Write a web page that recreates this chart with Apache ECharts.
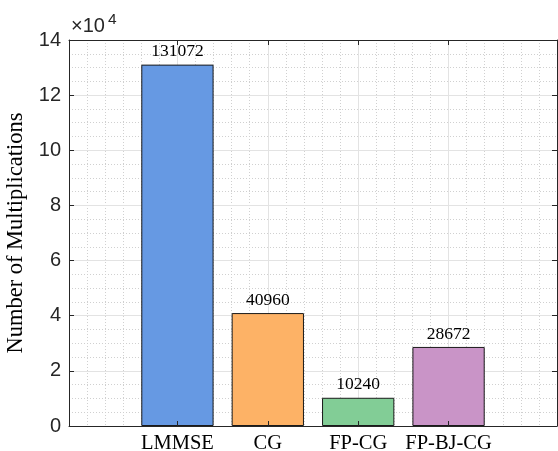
<!DOCTYPE html>
<html>
<head>
<meta charset="utf-8">
<script src="https://cdn.jsdelivr.net/npm/echarts@6/dist/echarts.min.js"></script>
<style>
  html, body { margin: 0; padding: 0; background: #fff; }
  #chart { width: 558px; height: 451px; }
</style>
</head>
<body>
<div id="chart"></div>
<script>
// ---- data ----
const categories = ['LMMSE', 'CG', 'FP-CG', 'FP-BJ-CG'];
const values = [131072, 40960, 10240, 28672];
const positions = [1, 2, 3, 4];
const yTickValues = [0, 2, 4, 6, 8, 10, 12, 14]; // ×10^4
const yExponent = '4';
const yTitle = 'Number of Multiplications';

// ---- axis config ----
const xMin = -0.2, xMax = 5.2, xMinorStep = 0.2;
const yScale = 10000;
const barColors = ['#6699E3', '#FDB266', '#82CD96', '#C994C7'];

const nSlots = Math.round((xMax - xMin) / xMinorStep) + 1;
const slotLabels = new Array(nSlots).fill('');
const majorSlots = positions.map(p => Math.round((p - xMin) / xMinorStep));
majorSlots.forEach((s, i) => { slotLabels[s] = categories[i]; });
const isMajor = (i) => majorSlots.indexOf(i) >= 0;
const barData = new Array(nSlots).fill('-');
majorSlots.forEach((s, i) => {
  barData[s] = { value: values[i], itemStyle: { color: barColors[i] } };
});

const AX = '#262626';
const SERIF = 'Liberation Serif';
const SANS = 'Liberation Sans';

const baseX = {
  type: 'category', data: slotLabels, boundaryGap: false, gridIndex: 0
};

const chart = echarts.init(document.getElementById('chart'), null, { renderer: 'canvas' });
chart.setOption({
  animation: false,
  backgroundColor: '#ffffff',
  grid: { left: 69, top: 40, width: 488, height: 386, containLabel: false, outerBoundsMode: 'none' },
  xAxis: [
    Object.assign({}, baseX, {
      position: 'bottom', z: 0,
      axisLine: { show: false }, axisTick: { show: false }, axisLabel: { show: false },
      splitLine: { show: true, interval: (i) => !isMajor(i) && i > 0 && i < nSlots - 1,
        lineStyle: { color: '#d0d0d0', width: 1, type: [1, 2] } }
    }),
    Object.assign({}, baseX, {
      position: 'bottom', z: 0,
      axisLine: { show: false }, axisTick: { show: false }, axisLabel: { show: false },
      splitLine: { show: true, interval: (i) => isMajor(i),
        lineStyle: { color: '#e3e3e3', width: 1, type: 'solid' } }
    }),
    Object.assign({}, baseX, {
      position: 'bottom', z: 5,
      axisLine: { show: true, lineStyle: { color: AX, width: 1 } },
      axisTick: { show: true, inside: true, length: 5, interval: (i) => isMajor(i), lineStyle: { color: AX } },
      axisLabel: { show: true, interval: (i) => isMajor(i), margin: 7,
        fontFamily: SERIF, fontSize: 20.5, color: '#000' },
      splitLine: { show: false }
    }),
    Object.assign({}, baseX, {
      position: 'top', z: 5,
      axisLine: { show: true, lineStyle: { color: AX, width: 1 } },
      axisTick: { show: true, inside: true, length: 5, interval: (i) => isMajor(i), lineStyle: { color: AX } },
      axisLabel: { show: false },
      splitLine: { show: false }
    })
  ],
  yAxis: [
    {
      type: 'value', position: 'left', min: yTickValues[0] * yScale,
      max: yTickValues[yTickValues.length - 1] * yScale,
      interval: (yTickValues[1] - yTickValues[0]) * yScale, z: 1,
      name: yTitle, nameLocation: 'middle', nameRotate: 90, nameGap: 37,
      nameTextStyle: { fontFamily: SERIF, fontSize: 22.5, color: '#000' },
      axisLine: { show: true, lineStyle: { color: AX, width: 1 } },
      axisTick: { show: true, inside: true, length: 5, lineStyle: { color: AX } },
      axisLabel: { formatter: (v) => String(v / yScale), margin: 8,
        fontFamily: SANS, fontSize: 20, color: AX },
      splitLine: { show: true, lineStyle: { color: '#e3e3e3', width: 1 } },
      minorTick: { show: false, splitNumber: 4 },
      minorSplitLine: { show: true, lineStyle: { color: '#d0d0d0', width: 1, type: [1, 2] } }
    },
    {
      type: 'value', position: 'right', min: yTickValues[0] * yScale,
      max: yTickValues[yTickValues.length - 1] * yScale,
      interval: (yTickValues[1] - yTickValues[0]) * yScale, z: 5,
      axisLine: { show: true, lineStyle: { color: AX, width: 1 } },
      axisTick: { show: true, inside: true, length: 5, lineStyle: { color: AX } },
      axisLabel: { show: false },
      splitLine: { show: false }
    }
  ],
  graphic: [
    { type: 'text', left: 71, top: 16, style: { text: '×10', font: '20px "Liberation Sans"', fill: AX } },
    { type: 'text', left: 108, top: 12, style: { text: yExponent, font: '15.5px "Liberation Sans"', fill: AX } }
  ],
  series: [{
    type: 'bar', xAxisIndex: 0, yAxisIndex: 0, z: 2,
    data: barData,
    barWidth: '400%',
    itemStyle: { borderColor: '#1a1a1a', borderWidth: 1 },
    label: { show: true, position: 'top', distance: 4,
      fontFamily: SERIF, fontSize: 17.5, color: '#000' }
  }]
});
</script>
</body>
</html>
